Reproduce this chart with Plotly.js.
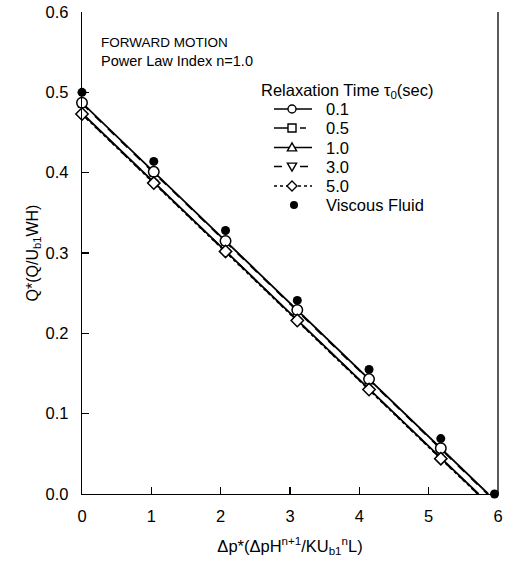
<!DOCTYPE html>
<html>
<head>
<meta charset="utf-8">
<script src="https://cdn.plot.ly/plotly-3.0.1.min.js"></script>
<style>
  html, body { margin: 0; padding: 0; background: #fff; }
  #chart { width: 510px; height: 565px; }
</style>
</head>
<body>
<div id="chart"></div>
<script>
// Dimensionless pressure gradient at the computed points
const dp = [0, 1.035, 2.07, 3.105, 4.14, 5.175];

// Flow rate for each relaxation time (last value: line reaches Q* = 0)
const tau01 = [0.487, 0.401, 0.315, 0.229, 0.143, 0.057, 0.0];
const tau05 = [0.486, 0.400, 0.314, 0.228, 0.142, 0.056, 0.0];
const tau10 = [0.474, 0.388, 0.303, 0.217, 0.131, 0.045, 0.0];
const tau30 = [0.473, 0.388, 0.302, 0.216, 0.130, 0.044, 0.0];
const tau50 = [0.473, 0.387, 0.302, 0.216, 0.130, 0.044, 0.0];

// Zero-flow pressure gradient for each relaxation time
const dpZero = {tau01: 5.86, tau05: 5.85, tau10: 5.72, tau30: 5.71, tau50: 5.71};

// Newtonian (viscous) reference
const dpViscous = [0, 1.035, 2.07, 3.105, 4.14, 5.175, 5.95];
const qViscous  = [0.500, 0.414, 0.328, 0.241, 0.155, 0.069, 0.0];

const legendNames = ['0.1', '0.5', '1.0', '3.0', '5.0', 'Viscous Fluid'];
const xTicks = [0, 1, 2, 3, 4, 5, 6];
const yTicks = [0.0, 0.1, 0.2, 0.3, 0.4, 0.5, 0.6];

const FONT = 'Liberation Sans, Arial, Helvetica, sans-serif';

// Figure geometry (pixels)
const W = 510, H = 565;
const M = {l: 82, r: 12, t: 12, b: 71};
const plotW = W - M.l - M.r, plotH = H - M.t - M.b;
const px = v => (v - M.l) / plotW;          // figure px -> paper x
const py = v => (H - M.b - v) / plotH;      // figure px -> paper y

// Line and symbol style per relaxation time
const styles = [
  {symbol: 'circle',        dash: 'solid',             size: 10.5, traceDash: 'solid'},
  {symbol: 'square',        dash: '18px,8px,6px,10px', size: 7,    traceDash: 'dash'},
  {symbol: 'triangle-up',   dash: 'solid',             size: 7.5,  traceDash: 'solid'},
  {symbol: 'triangle-down', dash: '8px,18px,8px',      size: 7.5,  traceDash: 'dash'},
  {symbol: 'diamond',       dash: 'dot',               size: 9.5,  traceDash: 'dot'}
];

function series(i, q, zero) {
  const x = dp.concat([zero]);
  // the extra end point only carries the line down to the axis
  const sizes = x.map((_, k) => k < dp.length ? styles[i].size : 0);
  return {
    type: 'scatter', mode: 'lines+markers', name: legendNames[i], showlegend: false,
    x: x, y: q,
    line: {color: '#000', width: 1.8, dash: styles[i].traceDash},
    marker: {symbol: styles[i].symbol, size: sizes, color: '#fff', opacity: 1,
             line: {color: '#000', width: 1.5}},
    cliponaxis: false
  };
}

// 0.1 circles and 5.0 diamonds are drawn last so they sit on top
const traces = [
  series(1, tau05, dpZero.tau05),
  series(2, tau10, dpZero.tau10),
  series(3, tau30, dpZero.tau30),
  series(0, tau01, dpZero.tau01),
  series(4, tau50, dpZero.tau50),
  {
    type: 'scatter', mode: 'markers', name: legendNames[5], showlegend: false,
    x: dpViscous, y: qViscous,
    marker: {symbol: 'circle', size: 9, color: '#000', opacity: 1},
    cliponaxis: false
  }
];

// Hand-built legend: sample line, symbol and label for each entry
const LEG = {lineX0: 274, lineX1: 312, symX: 292, textX: 324, titleX: 259, titleY: 91,
             rows: [109, 128, 147.5, 166.5, 186, 205], r: 4};
const symbolPaths = {
  'triangle-up':   'M-4.6,-3.4 L4.6,-3.4 L0,4.6 Z',
  'triangle-down': 'M-4.6,3.4 L4.6,3.4 L0,-4.6 Z',
  'diamond':       'M0,5 L5,0 L0,-5 L-5,0 Z'
};

const legendShapes = [];
const legendText = [{
  text: 'Relaxation Time τ<sub>0</sub>(sec)', xref: 'paper', yref: 'paper',
  x: px(LEG.titleX), y: py(LEG.titleY), xanchor: 'left', yanchor: 'middle',
  showarrow: false, font: {family: FONT, size: 16.5}
}];

styles.forEach((s, i) => {
  const yy = py(LEG.rows[i]);
  legendShapes.push({type: 'line', xref: 'paper', yref: 'paper',
    x0: px(LEG.lineX0), x1: px(LEG.lineX1), y0: yy, y1: yy,
    line: {color: '#000', width: 1.4, dash: s.dash}});
  const base = {xref: 'paper', yref: 'paper', xsizemode: 'pixel', ysizemode: 'pixel',
    xanchor: px(LEG.symX), yanchor: yy, fillcolor: '#fff',
    line: {color: '#000', width: 1.4}};
  if (s.symbol === 'circle') {
    legendShapes.push(Object.assign({type: 'circle', x0: -LEG.r, x1: LEG.r, y0: -LEG.r, y1: LEG.r}, base));
  } else if (s.symbol === 'square') {
    legendShapes.push(Object.assign({type: 'rect', x0: -LEG.r, x1: LEG.r, y0: -LEG.r, y1: LEG.r}, base));
  } else {
    legendShapes.push(Object.assign({type: 'path', path: symbolPaths[s.symbol]}, base));
  }
  legendText.push({text: legendNames[i], xref: 'paper', yref: 'paper',
    x: px(LEG.textX), y: yy, xanchor: 'left', yanchor: 'middle',
    showarrow: false, font: {family: FONT, size: 16.5}});
});
// Viscous fluid entry
legendShapes.push({type: 'circle', xref: 'paper', yref: 'paper', xsizemode: 'pixel', ysizemode: 'pixel',
  xanchor: px(LEG.symX + 2), yanchor: py(LEG.rows[5]), x0: -4, x1: 4, y0: -4, y1: 4,
  fillcolor: '#000', line: {color: '#000', width: 0}});
legendText.push({text: legendNames[5], xref: 'paper', yref: 'paper',
  x: px(LEG.textX), y: py(LEG.rows[5]), xanchor: 'left', yanchor: 'middle',
  showarrow: false, font: {family: FONT, size: 16.5}});

const layout = {
  width: W, height: H,
  margin: M,
  paper_bgcolor: '#fff', plot_bgcolor: '#fff',
  font: {family: FONT, color: '#000', size: 16},
  showlegend: false,
  xaxis: {
    range: [0, 6], tickvals: xTicks, ticktext: xTicks.map(String),
    showgrid: false, zeroline: false,
    showline: true, linecolor: '#000', linewidth: 1.3,
    ticks: 'inside', ticklen: 7, tickwidth: 1.3, tickcolor: '#000',
    ticklabelstandoff: 7,
    tickfont: {family: FONT, size: 16.5},
    title: {text: 'Δp*(ΔpH<sup>n+1</sup>/KU<sub>b1</sub><sup>n</sup>L)',
            font: {family: FONT, size: 16.5}, standoff: 16}
  },
  yaxis: {
    range: [0, 0.6], tickvals: yTicks, ticktext: yTicks.map(v => v.toFixed(1)),
    showgrid: false, zeroline: false,
    showline: true, linecolor: '#000', linewidth: 1.3,
    ticks: 'inside', ticklen: 7, tickwidth: 1.3, tickcolor: '#000',
    ticklabelstandoff: 9,
    tickfont: {family: FONT, size: 16.5},
    title: {text: 'Q*(Q/U<sub>b1</sub>WH)', font: {family: FONT, size: 16}, standoff: 3}
  },
  shapes: [
    {type: 'line', xref: 'paper', yref: 'paper', x0: 1, x1: 1, y0: 0, y1: 1,
     line: {color: '#000', width: 1.3}}
  ].concat(legendShapes),
  annotations: [
    {text: 'FORWARD MOTION', xref: 'paper', yref: 'paper', x: px(99), y: py(42),
     xanchor: 'left', yanchor: 'middle', showarrow: false,
     font: {family: FONT, size: 13.5}},
    {text: 'Power Law Index n=1.0', xref: 'paper', yref: 'paper', x: px(99), y: py(61),
     xanchor: 'left', yanchor: 'middle', showarrow: false,
     font: {family: FONT, size: 14.5}}
  ].concat(legendText)
};

Plotly.newPlot('chart', traces, layout, {staticPlot: true, displayModeBar: false});
</script>
</body>
</html>
